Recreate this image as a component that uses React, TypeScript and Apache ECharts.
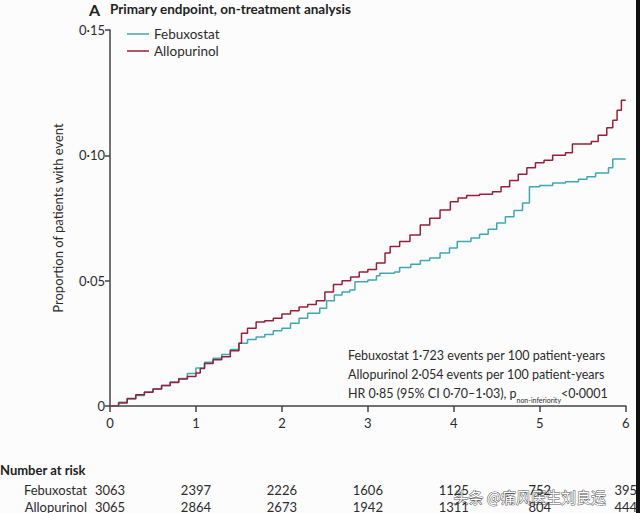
import React, { useEffect, useRef } from "react";
import * as echarts from "echarts";

const seriesNames = ["Febuxostat", "Allopurinol"];

const febuxostat: [number, number][] = [
  [0, 0], [0.1, 0.0015], [0.2, 0.0028], [0.3, 0.0042], [0.4, 0.0056], [0.5, 0.0068],
  [0.6, 0.0082], [0.7, 0.0096], [0.8, 0.011], [0.9, 0.013], [1.0, 0.0152], [1.1, 0.0175],
  [1.2, 0.019], [1.3, 0.0205], [1.4, 0.0225], [1.5, 0.025], [1.6, 0.0265], [1.7, 0.0275],
  [1.8, 0.0285], [1.9, 0.03], [2.0, 0.031], [2.1, 0.033], [2.2, 0.035], [2.3, 0.037],
  [2.44, 0.039], [2.52, 0.042], [2.61, 0.0443], [2.7, 0.0455], [2.79, 0.0463], [2.85, 0.0496],
  [3.0, 0.0503], [3.1, 0.052], [3.14, 0.053], [3.31, 0.0535], [3.37, 0.0553], [3.5, 0.0565],
  [3.61, 0.058], [3.72, 0.059], [3.84, 0.061], [3.95, 0.063], [4.04, 0.0656], [4.2, 0.067],
  [4.3, 0.0685], [4.4, 0.0705], [4.5, 0.073], [4.6, 0.0755], [4.7, 0.078],
  [4.8, 0.081], [4.88, 0.0875], [5.0, 0.088], [5.15, 0.089], [5.3, 0.0895], [5.45, 0.0905],
  [5.55, 0.0915], [5.65, 0.093], [5.8, 0.095], [5.85, 0.0985], [6.0, 0.0985],
];

const allopurinol: [number, number][] = [
  [0, 0], [0.1, 0.0012], [0.2, 0.003], [0.3, 0.0045], [0.4, 0.0055], [0.5, 0.0068],
  [0.6, 0.0082], [0.7, 0.0094], [0.8, 0.0108], [0.9, 0.0118], [1.0, 0.0132], [1.05, 0.015],
  [1.1, 0.017], [1.2, 0.0185], [1.3, 0.0196], [1.4, 0.022], [1.5, 0.025], [1.53, 0.029],
  [1.6, 0.031], [1.7, 0.0335], [1.8, 0.034], [1.9, 0.035], [2.0, 0.0367], [2.1, 0.038],
  [2.2, 0.0395], [2.3, 0.0405], [2.4, 0.042], [2.5, 0.0455], [2.6, 0.0485], [2.7, 0.05],
  [2.8, 0.0515], [2.9, 0.0535], [3.0, 0.0545], [3.1, 0.057], [3.2, 0.061], [3.26, 0.0636],
  [3.37, 0.0656], [3.49, 0.0682], [3.61, 0.0722], [3.72, 0.0749], [3.84, 0.0782],
  [3.96, 0.0815], [4.05, 0.083], [4.15, 0.084], [4.3, 0.0845], [4.45, 0.0855], [4.55, 0.0875],
  [4.65, 0.09], [4.75, 0.0925], [4.85, 0.095], [4.95, 0.097], [5.05, 0.098], [5.15, 0.1],
  [5.3, 0.101], [5.38, 0.1045], [5.6, 0.1055], [5.68, 0.108], [5.78, 0.111], [5.85, 0.114],
  [5.9, 0.118], [5.95, 0.122], [6.0, 0.122],
];

const xTicks = [0, 1, 2, 3, 4, 5, 6];
const yTickLabels: Record<string, string> = { "0": "0", "0.05": "0·05", "0.1": "0·10", "0.15": "0·15" };
const riskFebuxostat = [3063, 2397, 2226, 1606, 1125, 752, 395];
const riskAllopurinol = [3065, 2864, 2673, 1942, 1311, 804, 444];

const titleLetter = "A";
const titleText = "Primary endpoint, on-treatment analysis";
const yAxisName = "Proportion of patients with event";
const annotationLines = [
  "Febuxostat 1·723 events per 100 patient-years",
  "Allopurinol 2·054 events per 100 patient-years",
];
const watermark = "头条 @痛风医生刘良运";

const TEAL = "#3fa8ae";
const RED = "#981f3a";
const FONT = "Lato, 'Open Sans', sans-serif";
const INK = "#2b2b2b";

export default function App() {
  const ref = useRef<HTMLDivElement>(null);
  useEffect(() => {
    document.body.style.margin = "0";
    const chart = echarts.init(ref.current!, null, { renderer: "svg" });
    const riskAxis = (data: number[], offset: number) => ({
      type: "value",
      min: 0,
      max: 6,
      interval: 1,
      position: "bottom",
      offset,
      axisLine: { show: false },
      axisTick: { show: false },
      splitLine: { show: false },
      axisLabel: {
        margin: 0,
        fontFamily: FONT,
        fontSize: 13,
        color: INK,
        formatter: (v: number) => String(data[xTicks.indexOf(v)] ?? ""),
      },
    });
    chart.setOption({
      animation: false,
      backgroundColor: "#fdfcfd",
      textStyle: { fontFamily: FONT },
      grid: { left: 110, right: 14, top: 30, bottom: 107 },
      legend: {
        orient: "vertical",
        left: 122,
        top: 22,
        itemGap: 3,
        itemWidth: 22,
        itemHeight: 1.5,
        icon: "rect",
        data: seriesNames,
        textStyle: { fontFamily: FONT, fontSize: 13.5, color: INK, padding: [0, 0, 0, 0] },
      },
      xAxis: [
        {
          type: "value",
          min: 0,
          max: 6,
          interval: 1,
          axisLine: { lineStyle: { color: "#444", width: 1.5 } },
          axisTick: { length: 6, lineStyle: { color: "#444", width: 1.5 } },
          splitLine: { show: false },
          axisLabel: { margin: 10, fontFamily: FONT, fontSize: 13, color: INK },
        },
        riskAxis(riskFebuxostat, 77),
        riskAxis(riskAllopurinol, 94),
      ],
      yAxis: {
        type: "value",
        min: 0,
        max: 0.15,
        interval: 0.05,
        name: yAxisName,
        nameLocation: "middle",
        nameGap: 46,
        nameTextStyle: { fontFamily: FONT, fontSize: 13, color: INK },
        axisLine: { show: true, lineStyle: { color: "#444", width: 1.5 } },
        axisTick: { show: true, length: 5, lineStyle: { color: "#444", width: 1.5 } },
        splitLine: { show: false },
        axisLabel: {
          margin: 5,
          fontFamily: FONT,
          fontSize: 13,
          color: INK,
          formatter: (v: number) => yTickLabels[String(Number(v.toFixed(2)))] ?? String(v),
        },
      },
      series: [
        {
          name: seriesNames[0],
          type: "line",
          step: "end",
          showSymbol: false,
          data: febuxostat,
          lineStyle: { color: TEAL, width: 1.5 },
          itemStyle: { color: TEAL },
        },
        {
          name: seriesNames[1],
          type: "line",
          step: "end",
          showSymbol: false,
          data: allopurinol,
          lineStyle: { color: RED, width: 1.5 },
          itemStyle: { color: RED },
        },
      ],
      graphic: [
        {
          type: "text",
          left: 89,
          top: 1,
          style: { text: titleLetter, fontFamily: FONT, fontSize: 16, fontWeight: "bold", fill: "#222" },
        },
        {
          type: "text",
          left: 110,
          top: 2,
          style: { text: titleText, fontFamily: FONT, fontSize: 13.5, fontWeight: "bold", fill: "#222" },
        },
        {
          type: "text",
          left: 348,
          top: 346,
          style: {
            text: annotationLines.join("\n") + "\n" + "HR 0·85 (95% CI 0·70–1·03), p{sub|non-inferiority}<0·0001",
            fontFamily: FONT,
            fontSize: 12.5,
            lineHeight: 19,
            fill: INK,
            rich: {
              sub: { fontSize: 7, fontFamily: FONT, fill: INK, verticalAlign: "bottom", padding: [7, 0, 0, 0] },
            },
          },
        },
        {
          type: "text",
          left: 0,
          top: 463,
          style: { text: "Number at risk", fontFamily: FONT, fontSize: 13, fontWeight: "bold", fill: "#222" },
        },
        {
          type: "text",
          right: 553,
          top: 483,
          style: { text: seriesNames[0], fontFamily: FONT, fontSize: 13, fill: INK, align: "right" },
        },
        {
          type: "text",
          right: 553,
          top: 500,
          style: { text: seriesNames[1], fontFamily: FONT, fontSize: 13, fill: INK, align: "right" },
        },
        {
          type: "text",
          left: 453,
          top: 488,
          style: {
            text: watermark,
            fontFamily: "'Noto Sans CJK SC', sans-serif",
            fontSize: 15,
            fill: "#ffffff",
            stroke: "#555",
            lineWidth: 1,
          },
        },
        {
          type: "rect",
          right: 0,
          top: 0,
          shape: { width: 4, height: 513 },
          style: { fill: "#111" },
        },
      ],
    });
    return () => chart.dispose();
  }, []);
  return <div ref={ref} style={{ width: 640, height: 513 }} />;
}
